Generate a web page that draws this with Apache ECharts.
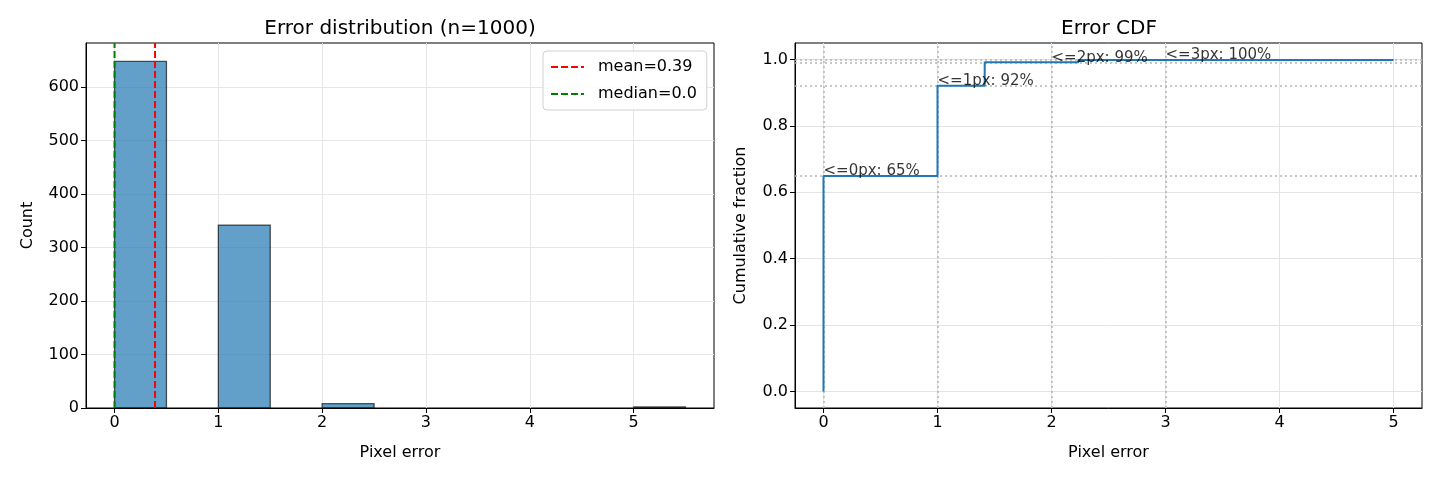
<!DOCTYPE html>
<html lang="en">
<head>
    <meta charset="UTF-8">
    <title>Error distribution</title>
    <script src="https://cdn.jsdelivr.net/npm/echarts@6/dist/echarts.min.js"></script>
    <style>
        html, body {margin: 0; padding: 0; background: #fff;}
        #chart {width: 1440px; height: 480px;}
    </style>
</head>
<body>
<div id="chart"></div>
<script type="text/javascript">
    // histogram bins (left edge, right edge) and counts
    var binStart = [0, 0.5, 1, 1.5, 2, 2.5, 3, 3.5, 4, 4.5, 5];
    var binEnd = [0.5, 1, 1.5, 2, 2.5, 3, 3.5, 4, 4.5, 5, 5.5];
    var binCount = [648, 0, 342, 0, 8, 0, 0, 0, 0, 0, 2];
    var meanErr = 0.39;
    var medianErr = 0.0;

    // CDF steps
    var cdfX = [0, 0, 1, 1.414, 2.236, 5];
    var cdfY = [0, 0.649, 0.921, 0.992, 0.999, 1.0];

    // reference lines + annotations on the CDF
    var refX = [0, 1, 2, 3];
    var refY = [0.649, 0.921, 0.992, 0.999];
    var annotText = ['<=0px: 65%', '<=1px: 92%', '<=2px: 99%', '<=3px: 100%'];

    var xTicks = [0, 1, 2, 3, 4, 5];
    var countTicks = [0, 100, 200, 300, 400, 500, 600];
    var fracTicks = [0, 0.2, 0.4, 0.6, 0.8, 1.0];

    var FONT = 'DejaVu Sans';
    var histMax = 682.5;

    var histData = [];
    for (var i = 0; i < binCount.length; i++) {
        if (binCount[i] > 0) histData.push([binStart[i], binEnd[i], binCount[i]]);
    }
    var cdfData = cdfX.map(function (x, i) { return [x, cdfY[i]]; });
    var annotData = refX.map(function (x, i) { return [x, refY[i], annotText[i]]; });

    var dom = document.getElementById('chart');
    var myChart = echarts.init(dom, null, {renderer: 'canvas'});

    function axisCommon(ticks, fmt) {
        return {
            axisLine: {show: true, onZero: false, lineStyle: {color: '#000', width: 1}},
            axisTick: {show: true, length: 5, customValues: ticks, lineStyle: {color: '#000', width: 1}},
            axisLabel: {customValues: ticks, color: '#000', fontSize: 16, fontFamily: FONT, margin: 7,
                formatter: fmt},
            nameTextStyle: {color: '#000', fontSize: 16, fontFamily: FONT}
        };
    }

    var xHist = Object.assign(axisCommon(xTicks, function (v) { return String(v); }), {
        type: 'value', gridIndex: 0, min: -0.275, max: 5.775,
        name: 'Pixel error', nameLocation: 'middle', nameGap: 37,
        splitLine: {show: true, lineStyle: {color: '#e6e6e6', width: 1}}
    });
    var yHist = Object.assign(axisCommon(countTicks, function (v) { return String(v); }), {
        type: 'value', gridIndex: 0, min: 0, max: histMax,
        name: 'Count', nameLocation: 'middle', nameGap: 50,
        splitLine: {show: true, lineStyle: {color: '#e6e6e6', width: 1}}
    });
    var xCdf = Object.assign(axisCommon(xTicks, function (v) { return String(v); }), {
        type: 'value', gridIndex: 1, min: -0.25, max: 5.25,
        name: 'Pixel error', nameLocation: 'middle', nameGap: 37,
        splitLine: {show: true, lineStyle: {color: '#e3e3e3', width: 1}}
    });
    var yCdf = Object.assign(axisCommon(fracTicks, function (v) { return v.toFixed(1); }), {
        type: 'value', gridIndex: 1, min: -0.05, max: 1.05,
        name: 'Cumulative fraction', nameLocation: 'middle', nameGap: 46,
        splitLine: {show: true, lineStyle: {color: '#e3e3e3', width: 1}}
    });

    var dotted = {color: '#b4b4b4', width: 1.5, type: [2, 3]};

    option = {
        animation: false,
        backgroundColor: '#fff',
        textStyle: {fontFamily: FONT},
        title: [
            {text: 'Error distribution (n=1000)', left: 395, top: 14, textAlign: 'center',
                textStyle: {fontSize: 20, fontWeight: 'normal', color: '#000', fontFamily: FONT}},
            {text: 'Error CDF', left: 1104, top: 14, textAlign: 'center',
                textStyle: {fontSize: 20, fontWeight: 'normal', color: '#000', fontFamily: FONT}}
        ],
        legend: {
            data: ['mean=0.39', 'median=0.0'],
            orient: 'vertical', left: 543, top: 51,
            itemWidth: 33, itemHeight: 12, itemGap: 11,
            padding: [8, 10, 8, 7],
            borderColor: '#d0d0d0', borderWidth: 1, borderRadius: 4,
            backgroundColor: 'rgba(255,255,255,0.85)',
            itemStyle: {opacity: 0},
            textStyle: {fontSize: 16, color: '#000', fontFamily: FONT, padding: [0, 0, 0, 9]}
        },
        grid: [
            {left: 86, right: 726, top: 43, bottom: 72, show: true, borderColor: '#000', borderWidth: 1},
            {left: 795, right: 18, top: 43, bottom: 72, show: true, borderColor: '#000', borderWidth: 1}
        ],
        xAxis: [xHist, xCdf],
        yAxis: [yHist, yCdf],
        series: [
            {
                type: 'custom', name: 'hist', xAxisIndex: 0, yAxisIndex: 0,
                data: histData,
                encode: {x: [0, 1], y: 2},
                renderItem: function (params, api) {
                    var p0 = api.coord([api.value(0), api.value(2)]);
                    var p1 = api.coord([api.value(1), 0]);
                    return {
                        type: 'rect',
                        shape: {x: p0[0], y: p0[1], width: p1[0] - p0[0], height: p1[1] - p0[1]},
                        style: {fill: 'rgba(31,119,180,0.7)', stroke: 'rgba(0,0,0,0.65)', lineWidth: 1.3}
                    };
                }
            },
            {
                type: 'line', name: 'mean=0.39', xAxisIndex: 0, yAxisIndex: 0,
                data: [[meanErr, 0], [meanErr, histMax]],
                symbol: 'none', color: '#ff0000',
                lineStyle: {color: '#ff0000', width: 2, type: [7, 3]}
            },
            {
                type: 'line', name: 'median=0.0', xAxisIndex: 0, yAxisIndex: 0,
                data: [[medianErr, 0], [medianErr, histMax]],
                symbol: 'none', color: '#008000',
                lineStyle: {color: '#008000', width: 2, type: [7, 3]}
            },
            {
                type: 'line', name: 'cdf', xAxisIndex: 1, yAxisIndex: 1,
                data: cdfData, step: 'end', symbol: 'none',
                lineStyle: {color: '#1f77b4', width: 2},
                z: 5,
                markLine: {
                    silent: true, symbol: 'none', label: {show: false},
                    lineStyle: dotted,
                    data: refX.map(function (x) { return {xAxis: x}; })
                        .concat(refY.map(function (y) { return {yAxis: y}; }))
                }
            },
            {
                type: 'scatter', name: 'annot', xAxisIndex: 1, yAxisIndex: 1,
                data: annotData, symbolSize: 0, z: 6,
                label: {
                    show: true, position: [0, 0], align: 'left', verticalAlign: 'bottom',
                    offset: [0, 3], color: '#000', fontSize: 15, fontFamily: FONT,
                    formatter: function (p) { return p.value[2]; }
                }
            }
        ]
    };

    myChart.setOption(option);
</script>
</body>
</html>
